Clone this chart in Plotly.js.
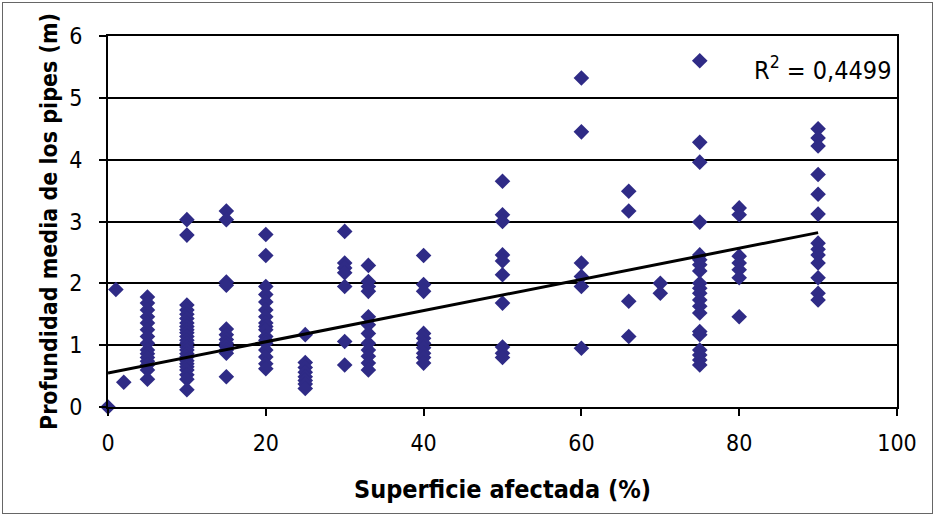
<!DOCTYPE html>
<html>
<head>
<meta charset="utf-8">
<script src="https://cdn.plot.ly/plotly-3.0.1.min.js"></script>
<style>
  html, body { margin: 0; padding: 0; background: #fff; }
  #wrap { position: relative; width: 936px; height: 517px; }
  #chart { width: 936px; height: 517px; }
  #frame { position: absolute; left: 2px; top: 2px; width: 929px; height: 510px; border: 1px solid #666; pointer-events: none; }
</style>
</head>
<body>
<div id="wrap"><div id="chart"></div><div id="frame"></div></div>
<script>
// Superficie afectada (%) for each column of points
const superficie = [0, 1, 2, 5, 10, 15, 20, 25, 30, 33, 40, 50, 60, 66, 70, 75, 80, 90];
// Profundidad media de los pipes (m) at each column
const profundidad = [
  [0],
  [1.9],
  [0.4],
  [1.78, 1.68, 1.57, 1.46, 1.36, 1.25, 1.14, 1.03, 0.92, 0.86, 0.80, 0.74, 0.68, 0.60, 0.45],
  [3.03, 2.78, 1.65, 1.57, 1.50, 1.43, 1.36, 1.30, 1.25, 1.20, 1.14, 1.08, 1.03, 0.97, 0.92, 0.86, 0.81, 0.75, 0.70, 0.65, 0.60, 0.52, 0.45, 0.28],
  [3.17, 3.03, 2.02, 1.97, 1.26, 1.17, 1.09, 1.03, 0.98, 0.92, 0.87, 0.49],
  [2.79, 2.45, 1.95, 1.82, 1.70, 1.57, 1.46, 1.36, 1.30, 1.25, 1.14, 1.08, 1.03, 0.92, 0.81, 0.70, 0.62],
  [1.17, 0.72, 0.64, 0.56, 0.49, 0.43, 0.37, 0.30],
  [2.84, 2.33, 2.25, 2.17, 1.95, 1.06, 0.68],
  [2.29, 2.03, 1.95, 1.87, 1.46, 1.33, 1.19, 1.03, 0.92, 0.82, 0.71, 0.60],
  [2.45, 1.98, 1.87, 1.19, 1.11, 1.03, 0.96, 0.87, 0.80, 0.71],
  [3.65, 3.11, 3.00, 2.46, 2.36, 2.14, 1.68, 0.97, 0.87, 0.80],
  [5.32, 4.45, 2.33, 2.11, 1.95, 0.95],
  [3.49, 3.17, 1.71, 1.14],
  [2.00, 1.84],
  [5.60, 4.28, 3.96, 2.99, 2.46, 2.38, 2.30, 2.20, 2.00, 1.92, 1.84, 1.73, 1.63, 1.52, 1.22, 1.17, 0.92, 0.84, 0.76, 0.68],
  [3.22, 3.11, 2.44, 2.33, 2.22, 2.09, 1.46],
  [4.50, 4.35, 4.22, 3.76, 3.44, 3.12, 2.65, 2.55, 2.46, 2.33, 2.09, 1.84, 1.73]
];
// Linear trend line end points
const trendX = [0, 90];
const trendY = [0.55, 2.82];
const r2Label = 'R<sup>2</sup> = 0,4499';
const xTicks = [0, 20, 40, 60, 80, 100];
const yTicks = [0, 1, 2, 3, 4, 5, 6];

const xs = [], ys = [];
superficie.forEach((s, i) => profundidad[i].forEach(v => { xs.push(s); ys.push(v); }));

const fontFam = '"DejaVu Sans Condensed", "Liberation Sans Narrow", "Arial Narrow", sans-serif';

const traces = [
  { x: xs, y: ys, type: 'scatter', mode: 'markers',
    marker: { symbol: 'diamond', size: 12, color: '#2f2b86' },
    cliponaxis: false, hoverinfo: 'x+y' },
  { x: trendX, y: trendY, type: 'scatter', mode: 'lines',
    line: { color: '#000', width: 3 }, hoverinfo: 'skip' }
];

const layout = {
  width: 936, height: 517,
  margin: { l: 108, r: 39, t: 36, b: 110 },
  paper_bgcolor: '#fff', plot_bgcolor: '#fff',
  showlegend: false,
  font: { family: fontFam, color: '#000', size: 23 },
  xaxis: {
    range: [0, 100], tickvals: xTicks, ticks: 'outside', ticklen: 7, tickwidth: 2, tickcolor: '#000',
    showline: true, linecolor: '#000', linewidth: 2, mirror: true,
    showgrid: false, zeroline: false, ticklabelstandoff: 7,
    tickfont: { family: fontFam, size: 23 },
    title: { text: '<b>Superficie afectada (%)</b>', font: { family: fontFam, size: 25 }, standoff: 26 }
  },
  yaxis: {
    range: [0, 6], tickvals: yTicks, ticks: 'outside', ticklen: 7, tickwidth: 2, tickcolor: '#000',
    showline: true, linecolor: '#000', linewidth: 2, mirror: true,
    showgrid: true, gridcolor: '#000', gridwidth: 2, zeroline: false, ticklabelstandoff: 12,
    tickfont: { family: fontFam, size: 23 },
    title: { text: '<b>Profundidad media de los pipes (m)</b>', font: { family: fontFam, size: 23 }, standoff: 5 }
  },
  annotations: [
    { xref: 'x', yref: 'y', x: 99.5, y: 5.48, xanchor: 'right', yanchor: 'middle', text: r2Label,
      showarrow: false, font: { family: fontFam, size: 25, color: '#000' } }
  ]
};

Plotly.newPlot('chart', traces, layout, { displayModeBar: false, staticPlot: true });
</script>
</body>
</html>
